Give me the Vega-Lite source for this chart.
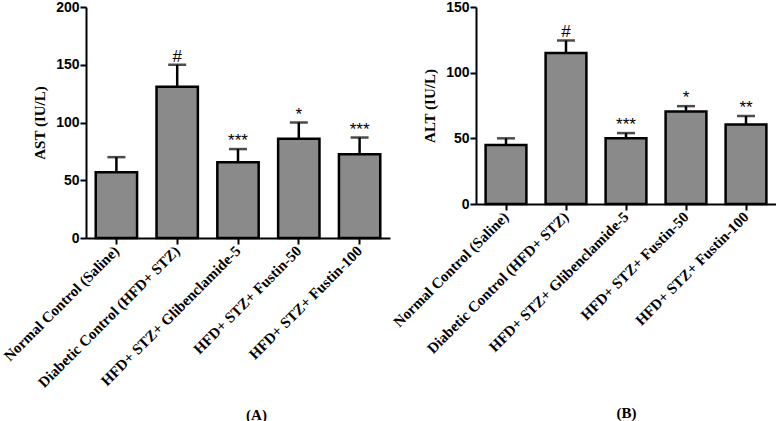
{
  "$schema": "https://vega.github.io/schema/vega-lite/v6.json",
  "padding": {"left": 0, "top": 0, "right": 0, "bottom": 0},
  "background": "white",
  "spacing": 0,
  "datasets": {
    "ast": [
      {"group": "Normal Control (Saline)", "mean": 57, "upper": 70, "sig": ""},
      {"group": "Diabetic Control (HFD+ STZ)", "mean": 131, "upper": 150, "sig": "#"},
      {"group": "HFD+ STZ+ Glibenclamide-5", "mean": 65.5, "upper": 77, "sig": "***"},
      {"group": "HFD+ STZ+ Fustin-50", "mean": 86, "upper": 100, "sig": "*"},
      {"group": "HFD+ STZ+ Fustin-100", "mean": 72.5, "upper": 87, "sig": "***"}
    ],
    "alt": [
      {"group": "Normal Control (Saline)", "mean": 45, "upper": 50, "sig": ""},
      {"group": "Diabetic Control (HFD+ STZ)", "mean": 115, "upper": 124.5, "sig": "#"},
      {"group": "HFD+ STZ+ Glibenclamide-5", "mean": 50, "upper": 54, "sig": "***"},
      {"group": "HFD+ STZ+ Fustin-50", "mean": 70.5, "upper": 74.5, "sig": "*"},
      {"group": "HFD+ STZ+ Fustin-100", "mean": 60.5, "upper": 67, "sig": "**"}
    ]
  },
  "config": {
    "view": {"stroke": null},
    "axis": {
      "grid": false,
      "domainColor": "black",
      "domainWidth": 2,
      "tickColor": "black",
      "tickWidth": 2,
      "tickSize": 6,
      "labelColor": "black",
      "titleColor": "black"
    },
    "axisY": {
      "labelFont": "Liberation Sans",
      "labelFontWeight": "bold",
      "labelFontSize": 14,
      "labelPadding": 1,
      "titleFont": "Liberation Serif",
      "titleFontWeight": "bold",
      "titleFontSize": 15,
      "titlePadding": 8
    },
    "axisX": {
      "labelFont": "Liberation Serif",
      "labelFontWeight": "bold",
      "labelFontSize": 15,
      "labelAngle": -45,
      "labelAlign": "right",
      "labelBaseline": "middle",
      "labelLimit": 400,
      "labelPadding": 4,
      "titleFont": "Liberation Serif",
      "titleFontWeight": "bold",
      "titleFontSize": 15,
      "titleBaseline": "middle"
    }
  },
  "hconcat": [
    {
      "width": 304,
      "height": 231,
      "data": {"name": "ast"},
      "encoding": {
        "x": {
          "field": "group", "type": "nominal", "sort": null,
          "scale": {"paddingInner": 0.32, "paddingOuter": 0.16},
          "axis": {"title": "(A)", "titleY": 176, "titleX": 170}
        }
      },
      "layer": [
        {
          "mark": {"type": "bar", "fill": "#8a8a8a", "stroke": "black", "strokeWidth": 2.5},
          "encoding": {
            "y": {"field": "mean", "type": "quantitative",
                  "scale": {"domain": [0, 200], "nice": false},
                  "axis": {"title": "AST (IU/L)", "values": [0, 50, 100, 150, 200]}}
          }
        },
        {
          "mark": {"type": "rule", "color": "black", "strokeWidth": 2.5},
          "encoding": {"y": {"field": "mean", "type": "quantitative"}, "y2": {"field": "upper"}}
        },
        {
          "mark": {"type": "tick", "color": "black", "size": 18, "thickness": 2.5},
          "encoding": {"y": {"field": "upper", "type": "quantitative"}}
        },
        {
          "mark": {"type": "text", "font": "Liberation Sans", "fontSize": 17, "baseline": "alphabetic", "dy": -3, "color": "black"},
          "encoding": {"y": {"field": "upper", "type": "quantitative"}, "text": {"field": "sig"}}
        }
      ]
    },
    {
      "width": 300,
      "height": 197,
      "data": {"name": "alt"},
      "encoding": {
        "x": {
          "field": "group", "type": "nominal", "sort": null,
          "scale": {"paddingInner": 0.32, "paddingOuter": 0.16},
          "axis": {"title": "(B)", "titleY": 208}
        }
      },
      "layer": [
        {
          "mark": {"type": "bar", "fill": "#8a8a8a", "stroke": "black", "strokeWidth": 2.5},
          "encoding": {
            "y": {"field": "mean", "type": "quantitative",
                  "scale": {"domain": [0, 150], "nice": false},
                  "axis": {"title": "ALT (IU/L)", "values": [0, 50, 100, 150]}}
          }
        },
        {
          "mark": {"type": "rule", "color": "black", "strokeWidth": 2.5},
          "encoding": {"y": {"field": "mean", "type": "quantitative"}, "y2": {"field": "upper"}}
        },
        {
          "mark": {"type": "tick", "color": "black", "size": 18, "thickness": 2.5},
          "encoding": {"y": {"field": "upper", "type": "quantitative"}}
        },
        {
          "mark": {"type": "text", "font": "Liberation Sans", "fontSize": 17, "baseline": "alphabetic", "dy": -3, "color": "black"},
          "encoding": {"y": {"field": "upper", "type": "quantitative"}, "text": {"field": "sig"}}
        }
      ]
    }
  ]
}
